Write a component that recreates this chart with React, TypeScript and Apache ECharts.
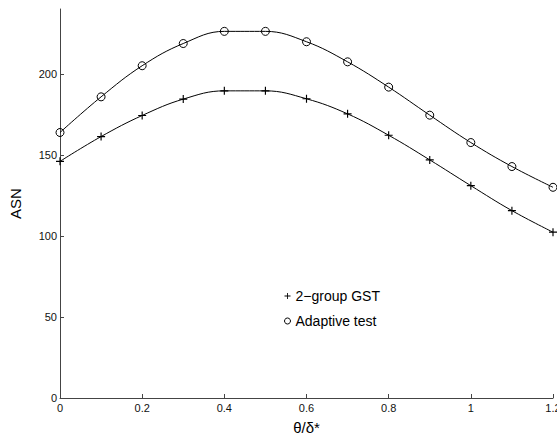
import React, { useEffect, useRef } from "react";
import * as echarts from "echarts";

const thetaRatio = [0, 0.1, 0.2, 0.3, 0.4, 0.5, 0.6, 0.7, 0.8, 0.9, 1.0, 1.1, 1.2];
const gstASN = [146, 161.3, 174.3, 184.4, 189.5, 189.5, 184.6, 175.3, 162.1, 146.9, 131, 115.6, 102.3];
const adaptiveASN = [163.8, 185.8, 205, 218.7, 226.2, 226.2, 219.8, 207.4, 191.8, 174.5, 157.6, 142.8, 130];
const yTicks = [0, 50, 100, 150, 200];
const seriesNames = ["2\u2212group GST", "Adaptive test"];

const PLUS = "path://M3,0h1v3h3v1h-3v3h-1v-3h-3v-1h3z";
const FONT = "'Liberation Sans', Arial, Helvetica, sans-serif";

export default function App() {
  const ref = useRef<HTMLDivElement>(null);
  useEffect(() => {
    if (!ref.current) return;
    const chart = echarts.init(ref.current, undefined, { renderer: "svg" });
    const axisColor = "#444";
    chart.setOption({
      animation: false,
      backgroundColor: "#fff",
      grid: { left: 60, right: 4, top: 9, bottom: 37, containLabel: false, outerBoundsMode: "none" },
      xAxis: {
        type: "value",
        min: 0,
        max: 1.2,
        interval: 0.2,
        name: "θ/δ*",
        nameLocation: "middle",
        nameGap: 22,
        nameTextStyle: { fontFamily: FONT, fontSize: 15, color: "#000" },
        axisLine: { show: true, lineStyle: { color: axisColor, width: 1 } },
        axisTick: { show: true, inside: true, length: 4, lineStyle: { color: axisColor } },
        axisLabel: {
          fontFamily: FONT,
          fontSize: 11,
          color: "#111",
          margin: 4,
          formatter: (v: number) => String(Math.round(v * 10) / 10),
        },
        splitLine: { show: false },
      },
      yAxis: {
        type: "value",
        min: 0,
        max: 240,
        name: "ASN",
        nameLocation: "middle",
        nameGap: 37,
        nameTextStyle: { fontFamily: FONT, fontSize: 15, color: "#000" },
        axisLine: { show: true, lineStyle: { color: axisColor, width: 1 } },
        axisTick: { show: true, inside: true, length: 4, customValues: yTicks, lineStyle: { color: axisColor } },
        axisLabel: { fontFamily: FONT, fontSize: 11, color: "#111", margin: 3, customValues: yTicks },
        splitLine: { show: false },
      },
      legend: {
        orient: "vertical",
        left: 279,
        top: 284,
        itemWidth: 6,
        itemHeight: 6,
        itemGap: 11,
        textStyle: { fontFamily: FONT, fontSize: 14, color: "#000", padding: [0, 0, 0, 0] },
        data: [
          { name: seriesNames[0], icon: PLUS, itemStyle: { color: "#000", borderWidth: 0 } },
          {
            name: seriesNames[1],
            icon: "circle",
            itemStyle: { color: "transparent", borderColor: "#000", borderWidth: 1 },
          },
        ],
      },
      series: [
        {
          name: seriesNames[0],
          type: "line",
          data: thetaRatio.map((x, i) => [x, gstASN[i]]),
          smooth: 0.4,
          symbol: PLUS,
          symbolSize: 8,
          showAllSymbol: true,
          lineStyle: { color: "#000", width: 1 },
          itemStyle: { color: "#000", borderWidth: 0 },
        },
        {
          name: seriesNames[1],
          type: "line",
          data: thetaRatio.map((x, i) => [x, adaptiveASN[i]]),
          smooth: 0.4,
          symbol: "circle",
          symbolSize: 8,
          showAllSymbol: true,
          lineStyle: { color: "#000", width: 1 },
          itemStyle: { color: "transparent", borderColor: "#000", borderWidth: 1 },
        },
      ],
    });
    return () => chart.dispose();
  }, []);
  return (
    <div
      ref={ref}
      style={{ position: "fixed", left: 0, top: 0, width: 557, height: 435 }}
    />
  );
}
